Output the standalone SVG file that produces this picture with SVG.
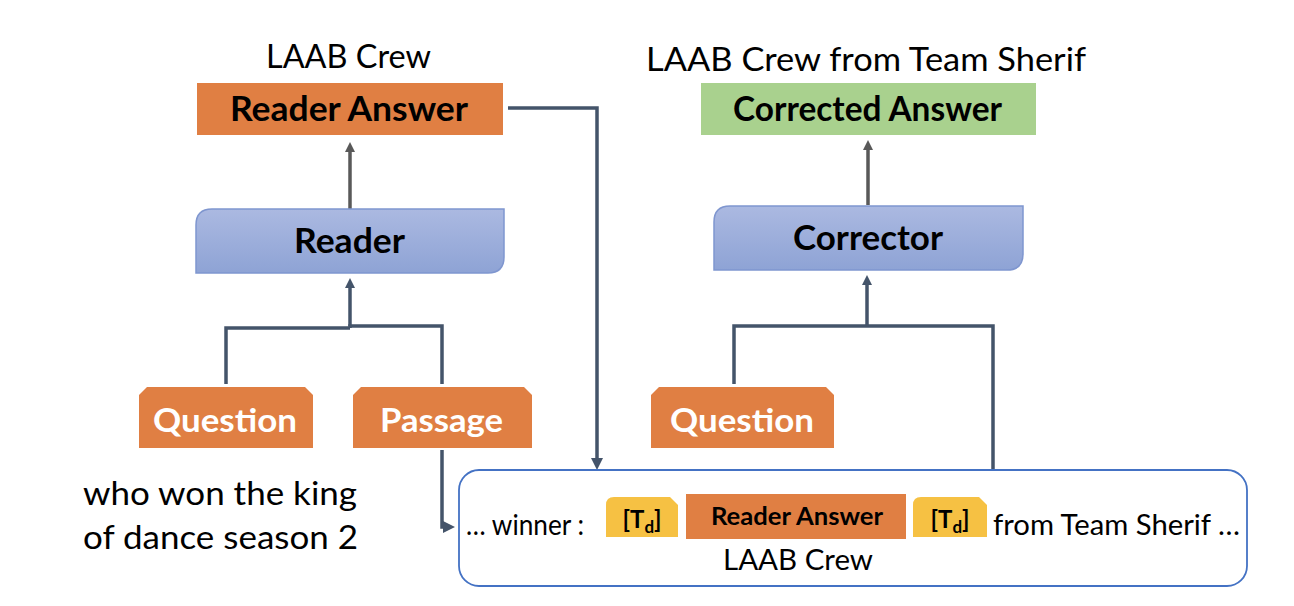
<svg xmlns="http://www.w3.org/2000/svg" width="1294" height="606" viewBox="0 0 1294 606">
  <style>
    text { font-family: Lato, "Open Sans", "Liberation Sans", sans-serif; }
    .t { font-size: 33px; fill: #000; }
    .b { font-weight: bold; font-size: 34px; }
    .w { fill: #fff; font-weight: bold; font-size: 33px; }
    .orange { fill: #E07F43; }
    .blue { fill: url(#bg); stroke: #7F96CF; stroke-width: 1.5; }
    .conn { fill: none; stroke: #44546A; stroke-width: 3.5; }
    .up { fill: none; stroke: #595959; stroke-width: 3.5; }
    .td { font-size: 24px; font-weight: bold; }
  </style>
  <defs>
    <linearGradient id="bg" x1="0" y1="0" x2="0" y2="1">
      <stop offset="0" stop-color="#ABB9E1"/>
      <stop offset="1" stop-color="#8EA3D5"/>
    </linearGradient>
    <marker id="ag" markerWidth="10" markerHeight="10" refX="5" refY="5" orient="auto" markerUnits="userSpaceOnUse" viewBox="0 0 10 10">
      <path d="M0,0 L10,5 L0,10 z" fill="#595959"/>
    </marker>
    <marker id="ad" markerWidth="10" markerHeight="10" refX="5" refY="5" orient="auto" markerUnits="userSpaceOnUse" viewBox="0 0 10 10">
      <path d="M0,0 L10,5 L0,10 z" fill="#44546A"/>
    </marker>
    <marker id="ab" markerWidth="12" markerHeight="12" refX="6" refY="6" orient="auto" markerUnits="userSpaceOnUse" viewBox="0 0 12 12">
      <path d="M0,0 L12,6 L0,12 z" fill="#44546A"/>
    </marker>
  </defs>
  <rect width="1294" height="606" fill="#fff"/>

  <g id="connectors">
    <path class="up" d="M350,209 V147" marker-end="url(#ag)"/>
    <path class="up" d="M868,205 V145" marker-end="url(#ag)"/>
    <path class="conn" d="M226,384 V328 H350 M350,328 V326 H442 V384"/>
    <path class="conn" d="M350,326 V283" marker-end="url(#ad)"/>
    <path class="conn" d="M734,384 V326 H993 V470"/>
    <path class="conn" d="M867,326 V280" marker-end="url(#ad)"/>
    <path class="conn" d="M508,108 H597 V464" marker-end="url(#ab)"/>
    <path class="conn" d="M442,450 V527 H449" marker-end="url(#ab)"/>
  </g>

  <g id="label-left">
    <text class="t" x="266" y="68" textLength="165" lengthAdjust="spacingAndGlyphs">LAAB Crew</text>
  </g>
  <g id="reader-answer">
    <rect class="orange" x="197" y="83" width="306" height="52"/>
    <text class="b" x="230" y="121" textLength="238" lengthAdjust="spacingAndGlyphs">Reader Answer</text>
  </g>
  <g id="reader">
    <path class="blue" d="M212,209 H504 V257 Q504,273 488,273 H196 V225 Q196,209 212,209 Z"/>
    <text class="b" x="294" y="253" textLength="111" lengthAdjust="spacingAndGlyphs">Reader</text>
  </g>
  <g id="question-left">
    <path class="orange" d="M147,387 H305 L313,395 V448 H139 V395 Z"/>
    <text class="w" x="153" y="432" textLength="144" lengthAdjust="spacingAndGlyphs">Question</text>
  </g>
  <g id="passage">
    <path class="orange" d="M361,387 H524 L532,395 V448 H353 V395 Z"/>
    <text class="w" x="380" y="432" textLength="123" lengthAdjust="spacingAndGlyphs">Passage</text>
  </g>
  <g id="query-text">
    <text class="t" x="83" y="505" textLength="274" lengthAdjust="spacingAndGlyphs">who won the king</text>
    <text class="t" x="83" y="549" textLength="275" lengthAdjust="spacingAndGlyphs">of dance season 2</text>
  </g>

  <g id="label-right">
    <text class="t" x="646" y="71" textLength="440" lengthAdjust="spacingAndGlyphs">LAAB Crew from Team Sherif</text>
  </g>
  <g id="corrected-answer">
    <rect x="701" y="83" width="335" height="52" fill="#A9D18E"/>
    <text class="b" x="733" y="121" textLength="269" lengthAdjust="spacingAndGlyphs">Corrected Answer</text>
  </g>
  <g id="corrector">
    <path class="blue" d="M730,206 H1023 V254 Q1023,270 1007,270 H714 V222 Q714,206 730,206 Z"/>
    <text class="b" x="793" y="250" textLength="150" lengthAdjust="spacingAndGlyphs">Corrector</text>
  </g>
  <g id="question-right">
    <path class="orange" d="M659,387 H826 L834,395 V448 H651 V395 Z"/>
    <text class="w" x="670" y="432" textLength="144" lengthAdjust="spacingAndGlyphs">Question</text>
  </g>

  <g id="passage-input">
    <rect x="459" y="470" width="788" height="116" rx="20" fill="#fff" stroke="#4472C4" stroke-width="1.8"/>
    <text x="466" y="535" font-size="28" textLength="118" lengthAdjust="spacingAndGlyphs">… winner :</text>
    <path d="M614,497 H670 L678,505 V537 H606 V505 Q606,497 614,497 Z" fill="#F6C143"/>
    <text class="td" x="642" y="528" text-anchor="middle">[T<tspan font-size="17" dy="5">d</tspan><tspan dy="-5">]</tspan></text>
    <rect x="686" y="494" width="220" height="45" fill="#E07F43"/>
    <text x="711" y="525" font-size="25" font-weight="bold" textLength="172" lengthAdjust="spacingAndGlyphs">Reader Answer</text>
    <path d="M921,497 H979 L987,505 V537 H913 V505 Q913,497 921,497 Z" fill="#F6C143"/>
    <text class="td" x="950" y="528" text-anchor="middle">[T<tspan font-size="17" dy="5">d</tspan><tspan dy="-5">]</tspan></text>
    <text x="993" y="535" font-size="28" textLength="247" lengthAdjust="spacingAndGlyphs">from Team Sherif …</text>
    <text x="723" y="570" font-size="28" textLength="150" lengthAdjust="spacingAndGlyphs">LAAB Crew</text>
  </g>
</svg>
